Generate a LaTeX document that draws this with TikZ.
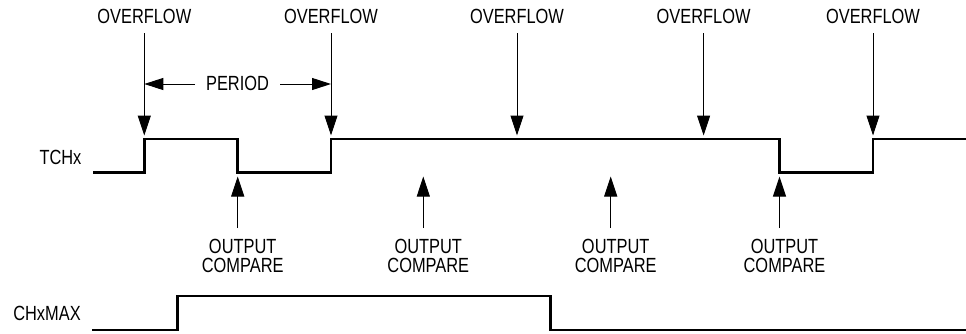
\documentclass[tikz,border=0pt]{standalone}
\usepackage{fontspec}
\setmainfont[FakeStretch=0.8]{Liberation Sans}
\usetikzlibrary{arrows.meta}
\begin{document}
\begin{tikzpicture}[x=1pt,y=-1pt,
  lbl/.style={inner sep=0pt, font=\fontsize{20.5}{19}\selectfont},
  oc/.style={lbl, align=center},
  wave/.style={line width=2.6pt, line cap=butt, line join=miter},
  arr/.style={line width=1pt, -{Triangle[length=20pt,width=13pt]}},
  parr/.style={line width=1pt, -{Triangle[length=19pt,width=12pt]}}]
\useasboundingbox (0,0) rectangle (966,333);
% labels
\node[lbl] (tchx) at (60.5,157.5) {TCHx};
\node[lbl] (chxmax) at (47,313.5) {CHxMAX};
% TCHx waveform
\draw[wave] (93,172.5) -- (144.3,172.5) -- (144.3,139) -- (237.7,139) -- (237.7,172.5)
  -- (331,172.5) -- (331,139) -- (779.5,139) -- (779.5,172.5) -- (873,172.5) -- (873,139) -- (966,139);
% CHxMAX waveform
\draw[wave] (92,330) -- (177.7,330) -- (177.7,296) -- (550.7,296) -- (550.7,330) -- (966,330);
% overflow
\foreach \i/\x in {1/144.3,2/331,3/517,4/703.6,5/873}{
  \node[lbl] (ov\i) at (\x,16) {OVERFLOW};
  \coordinate (ovs\i) at (\x,33);
  \coordinate (ove\i) at (\x,135.5);
  \draw[arr] (ovs\i) -- (ove\i);
}
% period
\node[lbl] (period) at (237.5,83.5) {PERIOD};
\coordinate (pl) at (195,84);
\coordinate (pr) at (280,84);
\draw[parr] (pl) -- (144.3,84);
\draw[parr] (pr) -- (331,84);
% output compare
\foreach \i/\x in {1/237.7,2/423.3,3/610.7,4/779.5}{
  \node[oc] (oc\i) at (\x+5,256) {OUTPUT\\COMPARE};
  \coordinate (ocs\i) at (\x,228);
  \coordinate (oce\i) at (\x,176.5);
  \draw[arr] (ocs\i) -- (oce\i);
}
\end{tikzpicture}
\end{document}
